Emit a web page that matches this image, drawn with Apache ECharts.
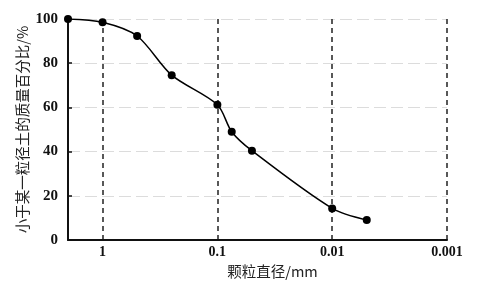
<!DOCTYPE html>
<html><head><meta charset="utf-8">
<script src="https://cdn.jsdelivr.net/npm/echarts@6/dist/echarts.min.js"></script>
<style>html,body{margin:0;padding:0;background:#fff}#c{width:477px;height:284px}</style>
</head><body><div id="c"></div>
<script>
const diameters = [2, 1, 0.5, 0.25, 0.1, 0.075, 0.05, 0.01, 0.005];
const percentPassing = [100, 98.5, 92.3, 74.6, 61.2, 49.0, 40.4, 14.3, 9.0];
const xTickLabels = ["0.001", "0.01", "0.1", "1"];
const yTicks = [0, 20, 40, 60, 80, 100];

const serif = '"Liberation Serif","Times New Roman",serif';
const cjk = '"Noto Sans CJK SC","Liberation Serif",serif';
const data = diameters.map((d, i) => [Math.log10(d), percentPassing[i]]);

const chart = echarts.init(document.getElementById('c'), null, {renderer: 'canvas'});
chart.setOption({
  backgroundColor: '#fff',
  animation: false,
  grid: {left: 68, right: 30, top: 19, bottom: 44, containLabel: false},
  xAxis: {
    type: 'value', inverse: true, min: -3, max: Math.log10(2), interval: 1,
    name: '颗粒直径/mm', nameLocation: 'middle', nameGap: 21,
    nameTextStyle: {fontFamily: cjk, fontSize: 14.5, color: '#222', padding: [0, 0, 0, 30]},
    axisLine: {onZero: false, lineStyle: {color: '#111', width: 2}},
    axisTick: {show: false},
    axisLabel: {showMaxLabel: false, margin: 5, fontFamily: serif, fontSize: 14, fontWeight: 'bold', color: '#111',
      formatter: v => { const i = Math.round(v) + 3; return xTickLabels[i] !== undefined && Math.abs(v - Math.round(v)) < 1e-6 ? xTickLabels[i] : ''; }},
    splitLine: {show: true, lineStyle: {color: '#222', width: 1.5, type: [5, 4]}}
  },
  yAxis: {
    type: 'value', min: 0, max: 100, interval: 20,
    name: '小于某一粒径土的质量百分比/%', nameLocation: 'middle', nameGap: 38, nameMoveOverlap: false,
    nameTextStyle: {fontFamily: cjk, fontSize: 14.5, color: '#222'},
    axisLine: {show: true, onZero: false, lineStyle: {color: '#111', width: 2}},
    axisTick: {show: true, inside: true, length: 4, lineStyle: {color: '#111', width: 1.5}},
    axisLabel: {margin: 10, fontFamily: serif, fontSize: 15, fontWeight: 'bold', color: '#111'},
    splitLine: {show: true, lineStyle: {color: '#dcdcdc', width: 1.2, type: [12, 5]}}
  },
  series: [{
    type: 'line', data: data, smooth: 0.3,
    symbol: 'circle', symbolSize: 8,
    itemStyle: {color: '#000'},
    lineStyle: {color: '#000', width: 1.5},
    z: 5
  }]
});
</script></body></html>
